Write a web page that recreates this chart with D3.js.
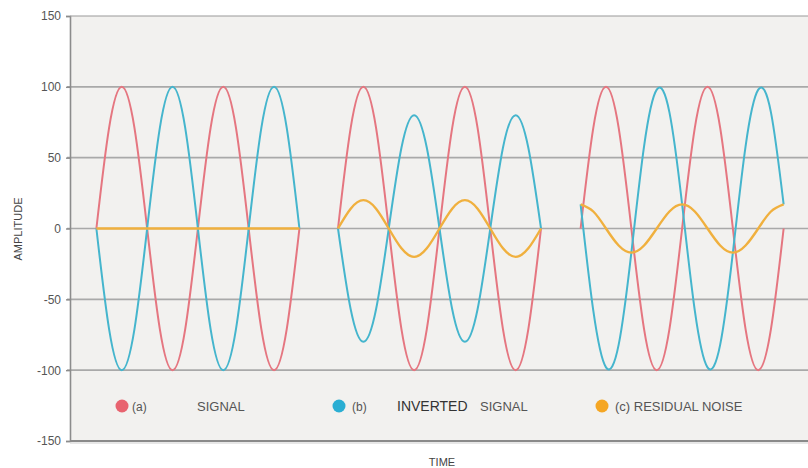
<!DOCTYPE html>
<html><head><meta charset="utf-8">
<script src="https://cdn.jsdelivr.net/npm/d3@7"></script>
<style>body{margin:0;background:#fff}svg{display:block}text{font-family:"Liberation Sans",Arial,sans-serif}</style>
</head><body><svg id="c" width="808" height="468"></svg>
<script>
// ---- data ----
const yTicks = [-150, -100, -50, 0, 50, 100, 150];
const panelStart = [26, 264, 503];   // time at which each panel starts
const sampleStep = 12.5;              // time between samples (1/8 period)
// panel 1
const signalA1   = [0,71,100,71,0,-71,-100,-71,0,71,100,71,0,-71,-100,-71,0];
const invertedB1 = [0,-71,-100,-71,0,71,100,71,0,-71,-100,-71,0,71,100,71,0];
const residualC1 = [0,0,0,0,0,0,0,0,0,0,0,0,0,0,0,0,0];
// panel 2
const signalA2   = [0,71,100,71,0,-71,-100,-71,0,71,100,71,0,-71,-100,-71,0];
const invertedB2 = [0,-57,-80,-57,0,57,80,57,0,-57,-80,-57,0,57,80,57,0];
const residualC2 = [0,14,20,14,0,-14,-20,-14,0,14,20,14,0,-14,-20,-14,0];
// panel 3
const signalA3   = [0,71,100,71,0,-71,-100,-71,0,71,100,71,0,-71,-100,-71,0];
const invertedB3 = [17,-58,-98,-82,-17,58,98,82,17,-58,-98,-82,-17,58,98,82,17];
const residualC3 = [17,12,0,-12,-17,-12,0,12,17,12,0,-12,-17,-12,0,12,17];
const legendLabels = ["(a)", "SIGNAL", "(b)", "INVERTED", "SIGNAL", "(c) RESIDUAL NOISE"];

const colA = "#e57680", colB = "#45b5cd", colC = "#f0b03e";

const svg = d3.select("#c");
const L = 70, R = 808, T = 16, B = 441;
const x = d3.scaleLinear().domain([0, 727]).range([L, R]);
const y = d3.scaleLinear().domain([-150, 150]).range([B, T]);

// plot background
svg.append("rect").attr("x", L).attr("y", T).attr("width", R - L).attr("height", B - T).attr("fill", "#f2f1ef");

// gridlines
svg.append("g").selectAll("line").data(yTicks.filter(d => d > -150 && d < 150)).join("line")
  .attr("x1", L - 3).attr("x2", R).attr("y1", d => y(d)).attr("y2", d => y(d))
  .attr("stroke", "#a9a9a9").attr("stroke-width", 1.6);

// y axis
const yAxis = d3.axisLeft(y).tickValues(yTicks).tickSize(4).tickPadding(5);
const ga = svg.append("g").attr("transform", `translate(${L},0)`).call(yAxis);
ga.select(".domain").attr("stroke", "#8c8c8c").attr("stroke-width", 1.6);
ga.selectAll(".tick line").attr("stroke", "#8c8c8c").attr("stroke-width", 1.4);
ga.selectAll(".tick text").attr("fill", "#555").style("font-size", "12px")
  .style("font-family", '"Liberation Sans",Arial,sans-serif').text(d => d);
// top border & bottom axis
svg.append("line").attr("x1", L).attr("x2", R).attr("y1", T).attr("y2", T).attr("stroke", "#9a9a9a").attr("stroke-width", 1.2);
svg.append("line").attr("x1", L).attr("x2", R).attr("y1", B).attr("y2", B).attr("stroke", "#8a8a8a").attr("stroke-width", 2.2);
svg.append("line").attr("x1", L).attr("x2", R).attr("y1", B + 2).attr("y2", B + 2).attr("stroke", "#cfcfcf").attr("stroke-width", 1.2);

// curves
const line = d3.line().x(d => x(d[0])).y(d => y(d[1])).curve(d3.curveNatural);
function pts(vals, p) { return vals.map((v, i) => [panelStart[p] + i * sampleStep, v]); }
const series = [
  {v: signalA1, p: 0, c: colA}, {v: invertedB1, p: 0, c: colB},
  {v: signalA2, p: 1, c: colA}, {v: invertedB2, p: 1, c: colB},
  {v: signalA3, p: 2, c: colA}, {v: invertedB3, p: 2, c: colB},
  {v: residualC1, p: 0, c: colC}, {v: residualC2, p: 1, c: colC}, {v: residualC3, p: 2, c: colC}
];
svg.append("g").selectAll("path").data(series).join("path")
  .attr("d", s => line(pts(s.v, s.p)))
  .attr("fill", "none").attr("stroke", s => s.c).attr("stroke-width", s => s.c === colC ? 2.4 : 2)
  .attr("stroke-linejoin", "round");

// legend
const lg = svg.append("g");
const ly = 406;
[[122, "#e8636f"], [339, "#2aaed3"], [602, "#f5a623"]].forEach(([cx, c]) =>
  lg.append("circle").attr("cx", cx).attr("cy", ly).attr("r", 6.5).attr("fill", c));
const lt = [[132, 0, 12, "#555"], [197, 1, 13, "#555"], [352, 2, 12, "#555"], [397, 3, 14, "#333"], [480, 4, 13, "#555"], [615, 5, 13, "#555"]];
lt.forEach(([tx, i, fs, col]) => lg.append("text").attr("x", tx).attr("y", ly + 5)
  .attr("fill", col).style("font-size", fs + "px").text(legendLabels[i]));

// axis titles
svg.append("text").attr("x", 442).attr("y", 466).attr("text-anchor", "middle")
  .attr("fill", "#444").style("font-size", "11px").text("TIME");
svg.append("text").attr("transform", "translate(22,229) rotate(-90)").attr("text-anchor", "middle")
  .attr("fill", "#444").style("font-size", "11px").text("AMPLITUDE");
</script></body></html>
